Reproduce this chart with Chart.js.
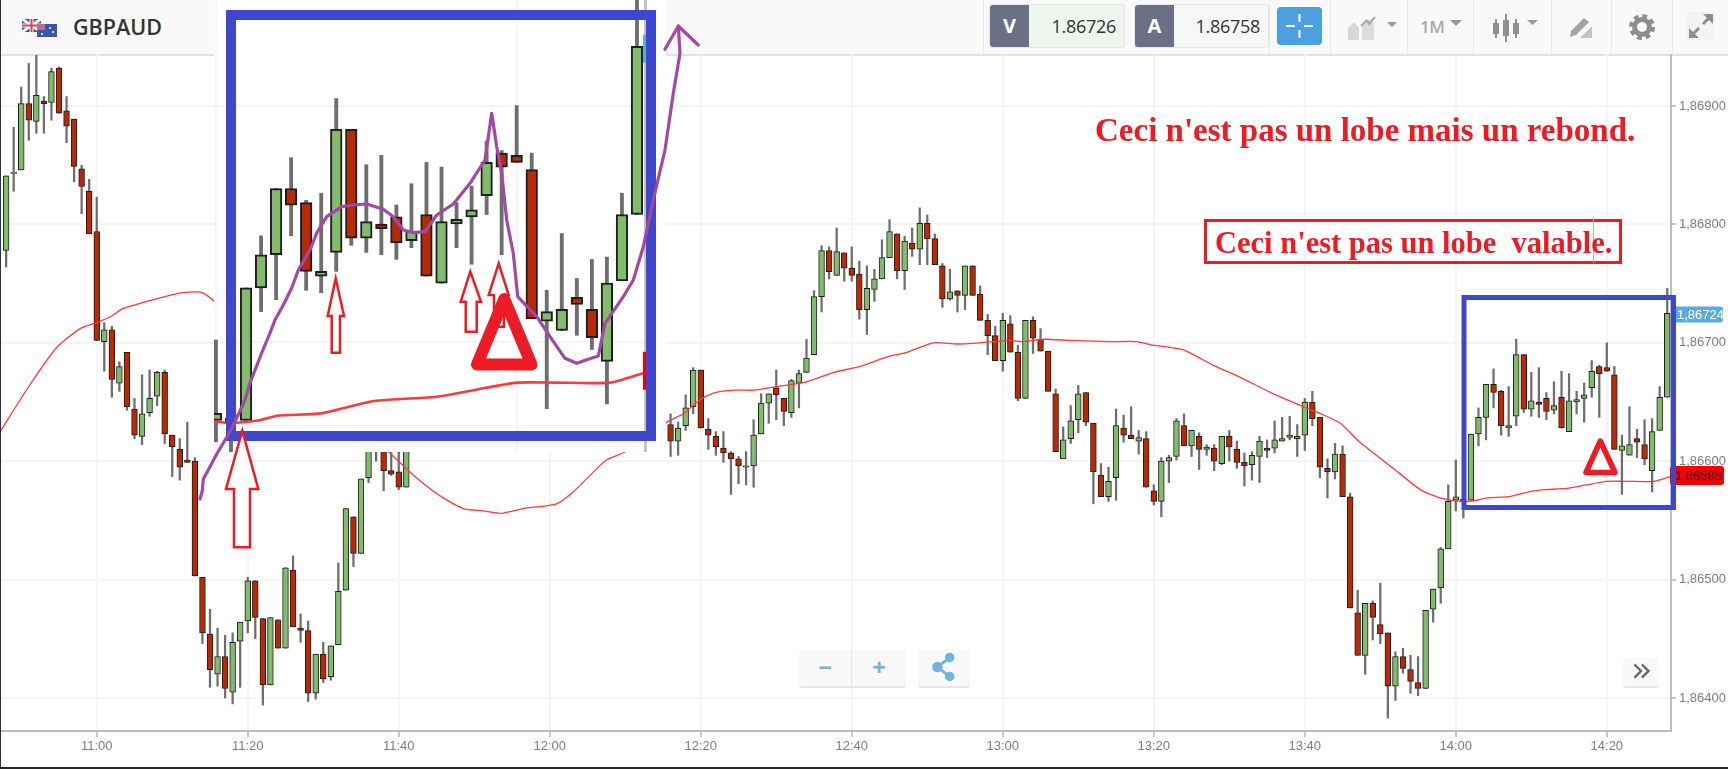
<!DOCTYPE html>
<html>
<head>
<meta charset="utf-8">
<title>GBPAUD</title>
<script src="https://cdn.jsdelivr.net/npm/chart.js@4"></script>
<style>
    html, body { margin: 0; padding: 0; background: #fff; overflow: hidden; }
    #page { position: relative; width: 1728px; height: 769px; overflow: hidden; font-family: "Open Sans", sans-serif; }
    #page > * { position: absolute; }
    canvas { left: 0; top: 0; filter: blur(0.35px); }
    #chart { z-index: 2; }
    #paste { z-index: 4; }
    #header { left: 0; top: 0; width: 1728px; height: 54px; background: #f9f9f9; border-bottom: 2px solid #e2e2e2; z-index: 1; }
    #header > * { position: absolute; }
    .sep { top: 0; width: 1px; height: 54px; background: #e8e8e8; }
    .quote { top: 4px; height: 42px; border: 1px solid #e6e6e6; border-radius: 3px; font-size: 18px; letter-spacing: -0.3px; color: #333; line-height: 42px; text-align: right; box-sizing: content-box; }
    .side { position: absolute; left: 0; top: 0; width: 39px; height: 42px; background: #6b7084; color: #fff; font-weight: 700; font-size: 20px; text-align: center; letter-spacing: 0; border-radius: 3px 0 0 3px; }
    .btn { z-index: 3; background: #f9f9f9; border-bottom: 2px solid #e6e6e6; border-radius: 3px; box-sizing: border-box; color: #6fb4df; text-align: center; font-weight: 700; }
    .note { z-index: 6; color: #ed1c24; font-family: "Liberation Serif", serif; font-weight: 700; white-space: pre; }
    #frame { z-index: 5; left: 1204px; top: 219px; width: 412px; height: 39px; border: 3px solid #ed1c24; }
    #stray { z-index: 5; left: 1593px; top: 218px; width: 1px; height: 45px; background: #b5b5b5; }
    #leftEdge { z-index: 7; left: 0; top: 0; width: 1px; height: 769px; background: #2a2f45; }
    #bottomEdge { z-index: 7; left: 0; top: 767px; width: 1728px; height: 2px; background: #23262e; }
</style>
</head>
<body>
<div id="page">
    <div id="header">
        <svg style="left:22px;top:18px" width="36" height="20" viewBox="0 0 36 20">
            <rect x="0" y="1" width="19" height="13" fill="#3c4f9c"/>
            <path d="M0 1L19 14M19 1L0 14" stroke="#fff" stroke-width="3"/>
            <path d="M9.5 1V14M0 7.5H19" stroke="#fff" stroke-width="4"/>
            <path d="M9.5 1V14M0 7.5H19" stroke="#d8425a" stroke-width="2"/>
            <rect x="15" y="6" width="20" height="13" fill="#3558a8"/>
            <rect x="15" y="6" width="8" height="6" fill="#c46a8a"/>
            <circle cx="28" cy="10" r="1" fill="#fff"/><circle cx="31" cy="14" r="1" fill="#fff"/><circle cx="20" cy="16" r="1" fill="#fff"/>
        </svg>
        <div style="left:73px;top:12px;font-size:21.5px;font-weight:600;color:#333;line-height:30px">GBPAUD</div>

        <div class="sep" style="left:983px"></div>
        <div class="quote" style="left:989px;width:126px;padding-right:8px;background:#edf5ec"><span class="side">V</span>1.86726</div>
        <div class="quote" style="left:1134px;width:125px;padding-right:8px;background:#f7f7f7"><span class="side">A</span>1.86758</div>
        <div class="sep" style="left:1269px"></div>
        <svg style="left:1277px;top:7px" width="45" height="38" viewBox="0 0 45 38">
            <rect width="45" height="38" rx="4" fill="#4ca0e0"/>
            <path d="M22.5 7V15M22.5 23V31M9 19H18M27 19H36" stroke="#fff" stroke-width="2"/>
        </svg>
        <div class="sep" style="left:1330px"></div>
        <svg style="left:1347px;top:14px" width="50" height="28" viewBox="0 0 50 28">
            <path d="M1 14L7 8L12 14L12 26L1 26Z" fill="#d6d6d6"/>
            <path d="M15 12L22 5L27 9V26H15Z" fill="#dcdcdc"/>
            <path d="M14 12L20 6M20 6L22 10L28 3" stroke="#a8a8a8" stroke-width="2" fill="none"/>
            <path d="M40 8H50L45 13Z" fill="#999"/>
        </svg>
        <div class="sep" style="left:1407px"></div>
        <div style="left:1420px;top:13px;font-size:17px;font-weight:600;color:#aaa;line-height:28px;letter-spacing:-0.4px">1M</div>
        <svg style="left:1449px;top:18px" width="14" height="10" viewBox="0 0 14 10"><path d="M1 2H13L7 8Z" fill="#999"/></svg>
        <div class="sep" style="left:1473px"></div>
        <svg style="left:1492px;top:13px" width="48" height="30" viewBox="0 0 48 30">
            <path d="M4 6V25M14 1V29M24 6V25" stroke="#8f8f8f" stroke-width="2"/>
            <rect x="1" y="10" width="6" height="11" fill="#8f8f8f"/><rect x="11" y="7" width="6" height="16" fill="#8f8f8f"/><rect x="21" y="10" width="6" height="11" fill="#8f8f8f"/>
            <path d="M35 7H46L40.500 12Z" fill="#999"/>
        </svg>
        <div class="sep" style="left:1551px"></div>
        <svg style="left:1568px;top:16px" width="26" height="24" viewBox="0 0 26 24">
            <path d="M3 15L16 2L21 6L8 19L2 21Z" fill="#a4a4a4"/>
            <path d="M24 10V22H12Z" fill="#c4c4c4"/>
        </svg>
        <div class="sep" style="left:1611px"></div>
        <svg style="left:1628px;top:13px" width="28" height="28" viewBox="0 0 28 28">
            <circle cx="14" cy="14" r="10.500" fill="none" stroke="#8e8e8e" stroke-width="5" stroke-dasharray="4.500 3.750"/>
            <circle cx="14" cy="14" r="7.500" fill="none" stroke="#8e8e8e" stroke-width="5"/>
        </svg>
        <div class="sep" style="left:1672px"></div>
        <svg style="left:1687px;top:12px" width="28" height="28" viewBox="0 0 28 28">
            <rect width="28" height="28" fill="#f3f3f3"/>
            <path d="M4 24L12 16M24 4L16 12" stroke="#8e8e8e" stroke-width="3"/>
            <path d="M2 26V16L12 26ZM26 2V12L16 2Z" fill="#8e8e8e"/>
        </svg>
    </div>

    <canvas id="chart" width="1728" height="769"></canvas>

    <div class="btn" style="left:799px;top:649px;width:107px;height:39px;font-size:24px;line-height:36px">
        <span style="position:absolute;left:0;width:52px">&#8722;</span>
        <span style="position:absolute;left:52px;top:0;width:1px;height:37px;background:#e6e6e6"></span>
        <span style="position:absolute;left:53px;width:54px">+</span>
    </div>
    <svg class="btn" style="left:918px;top:649px" width="52" height="39" viewBox="0 0 52 39">
        <path d="M32 9L19 19L32 29" stroke="#6fb4df" stroke-width="3" fill="none"/>
        <circle cx="32" cy="9" r="5" fill="#6fb4df"/><circle cx="19" cy="19" r="5.500" fill="#6fb4df"/><circle cx="32" cy="29" r="5" fill="#6fb4df"/>
    </svg>
    <svg class="btn" style="left:1623px;top:657px" width="36" height="31" viewBox="0 0 36 31">
        <path d="M11 8L18 15L11 22M19 8L26 15L19 22" stroke="#666" stroke-width="2.500" fill="none"/>
    </svg>

    <canvas id="paste" width="1728" height="769"></canvas>

    <div class="note" style="left:1095px;top:112px;font-size:33px;line-height:36px">Ceci n'est pas un lobe mais un rebond.</div>
    <div id="frame"></div>
    <div id="stray"></div>
    <div class="note" style="left:1215px;top:226px;font-size:30.5px;line-height:34px">Ceci n'est pas un lobe  valable.</div>
    <div id="leftEdge"></div>
    <div id="bottomEdge"></div>
</div>

<script>
// One minute candles, minutes counted from midnight. First candle is 10:48.
const firstMinute = 648;
const lastPrice = 1.86724;
const averagePrice = 1.86588;
const tickStepMinutes = 20;
const tickStepPrice = 0.001;

// null = candle sits behind the pasted zoom box and cannot be read
const hidden = new Array(34).fill(null);

const opens = [
    1.86778,1.86843,1.86846,1.86902,1.86887,1.86904,1.86903,1.86932,1.86896,1.86889,
    1.86847,1.86828,1.86794,1.86701,1.86711,1.86666,1.86692,1.86644,1.86621,1.86641,
    1.86655,1.86675,1.86622,1.86610,1.86601,1.86600,1.86502,1.86454,1.86420,1.86435,
    1.86405,1.86448,1.86465,1.86499,1.86467,1.86411,1.86466,1.86442,1.86508,1.86459,
    1.86457,1.86404,1.86437,1.86418,1.86445,1.86491,1.86553,1.86522,1.86586,1.86618,
    1.86625,1.86592,1.86591,1.86578,
    ...hidden,
    1.86631,1.86617,1.86630,1.86646,1.86677,1.86627,1.86621,1.86611,1.86607,1.86602,
    1.86595,1.86596,1.86623,1.86649,1.86662,1.86653,1.86641,1.86666,1.86675,1.86690,
    1.86739,1.86778,1.86757,1.86776,1.86763,1.86758,1.86728,1.86745,1.86754,1.86772,
    1.86792,1.86761,1.86784,1.86779,1.86801,1.86788,1.86765,1.86737,1.86744,1.86740,
    1.86765,1.86741,1.86719,1.86706,1.86685,1.86716,1.86692,1.86653,1.86719,1.86703,
    1.86693,1.86657,1.86602,1.86619,1.86635,1.86658,1.86632,1.86588,1.86570,1.86586,
    1.86628,1.86622,1.86617,1.86619,1.86575,1.86566,1.86600,1.86604,1.86630,1.86613,
    1.86621,1.86610,1.86611,1.86598,1.86621,1.86610,1.86599,1.86597,1.86604,1.86611,
    1.86611,1.86617,1.86620,1.86619,1.86622,1.86650,1.86637,1.86594,1.86591,1.86606,
    1.86570,1.86472,1.86436,1.86480,1.86462,1.86455,1.86410,1.86435,1.86424,1.86413,
    1.86408,1.86475,1.86493,1.86526,1.86567,1.86568,1.86567,1.86623,1.86637,1.86665,
    1.86659,1.86628,1.86638,1.86690,1.86644,1.86650,1.86653,1.86643,1.86654,1.86625,
    1.86650,1.86653,1.86662,1.86680,1.86679,1.86673,1.86609,1.86605,1.86619,1.86614,1.86592,1.86626,1.86654
];

const highs = [
    1.86841,1.86882,1.86916,1.86936,1.86947,1.86908,1.86932,1.86933,1.86908,1.86889,
    1.86850,1.86838,1.86823,1.86717,1.86714,1.86684,1.86692,1.86653,1.86673,1.86677,
    1.86676,1.86677,1.86622,1.86619,1.86633,1.86603,1.86502,1.86475,1.86459,1.86453,
    1.86455,1.86464,1.86502,1.86499,1.86467,1.86468,1.86466,1.86510,1.86520,1.86471,
    1.86465,1.86437,1.86447,1.86444,1.86514,1.86560,1.86553,1.86585,1.86620,1.86630,
    1.86630,1.86615,1.86615,1.86625,
    ...hidden,
    1.86640,1.86633,1.86656,1.86679,1.86677,1.86636,1.86625,1.86625,1.86608,1.86604,
    1.86608,1.86635,1.86657,1.86657,1.86677,1.86653,1.86669,1.86677,1.86703,1.86744,
    1.86782,1.86781,1.86797,1.86776,1.86781,1.86769,1.86765,1.86762,1.86787,1.86804,
    1.86792,1.86790,1.86797,1.86814,1.86808,1.86792,1.86767,1.86762,1.86744,1.86765,
    1.86765,1.86748,1.86724,1.86714,1.86725,1.86723,1.86698,1.86719,1.86722,1.86712,
    1.86693,1.86661,1.86629,1.86647,1.86664,1.86658,1.86632,1.86598,1.86595,1.86644,
    1.86639,1.86646,1.86626,1.86625,1.86580,1.86603,1.86605,1.86636,1.86640,1.86626,
    1.86624,1.86614,1.86614,1.86621,1.86626,1.86617,1.86607,1.86608,1.86621,1.86618,
    1.86634,1.86637,1.86638,1.86631,1.86653,1.86659,1.86637,1.86602,1.86615,1.86613,
    1.86573,1.86491,1.86480,1.86482,1.86497,1.86455,1.86439,1.86442,1.86436,1.86435,
    1.86474,1.86492,1.86527,1.86580,1.86601,1.86575,1.86623,1.86645,1.86665,1.86678,
    1.86660,1.86663,1.86703,1.86690,1.86675,1.86679,1.86658,1.86667,1.86676,1.86674,
    1.86659,1.86666,1.86685,1.86681,1.86700,1.86680,1.86622,1.86646,1.86627,1.86635,1.86636,1.86663,1.86746
];

const lows = [
    1.86764,1.86828,1.86846,1.86871,1.86877,1.86877,1.86888,1.86894,1.86869,1.86836,
    1.86809,1.86792,1.86702,1.86676,1.86654,1.86659,1.86643,1.86619,1.86614,1.86638,
    1.86647,1.86615,1.86587,1.86584,1.86599,1.86503,1.86446,1.86409,1.86410,1.86400,
    1.86395,1.86409,1.86455,1.86450,1.86394,1.86411,1.86442,1.86442,1.86460,1.86447,
    1.86397,1.86399,1.86413,1.86415,1.86445,1.86491,1.86511,1.86522,1.86582,1.86600,
    1.86575,1.86588,1.86576,1.86578,
    ...hidden,
    1.86604,1.86605,1.86626,1.86640,1.86628,1.86610,1.86605,1.86599,1.86572,1.86581,
    1.86580,1.86578,1.86623,1.86632,1.86635,1.86630,1.86637,1.86645,1.86675,1.86690,
    1.86726,1.86754,1.86757,1.86752,1.86752,1.86720,1.86707,1.86735,1.86754,1.86772,
    1.86754,1.86745,1.86773,1.86766,1.86766,1.86766,1.86730,1.86736,1.86726,1.86728,
    1.86740,1.86719,1.86690,1.86685,1.86676,1.86692,1.86651,1.86653,1.86691,1.86693,
    1.86659,1.86608,1.86602,1.86615,1.86624,1.86630,1.86564,1.86570,1.86566,1.86567,
    1.86616,1.86619,1.86606,1.86578,1.86563,1.86553,1.86582,1.86601,1.86613,1.86604,
    1.86593,1.86605,1.86592,1.86597,1.86600,1.86594,1.86579,1.86584,1.86582,1.86603,
    1.86607,1.86617,1.86618,1.86604,1.86609,1.86630,1.86586,1.86569,1.86585,1.86570,
    1.86476,1.86436,1.86420,1.86449,1.86446,1.86383,1.86398,1.86421,1.86404,1.86402,
    1.86408,1.86464,1.86480,1.86526,1.86558,1.86552,1.86567,1.86613,1.86618,1.86645,
    1.86622,1.86621,1.86630,1.86641,1.86638,1.86637,1.86635,1.86640,1.86628,1.86625,
    1.86640,1.86633,1.86654,1.86637,1.86676,1.86610,1.86572,1.86605,1.86603,1.86597,1.86574,1.86626,1.86654
];

const closes = [
    1.86841,1.86844,1.86902,1.86888,1.86909,1.86902,1.86929,1.86894,1.86883,1.86849,
    1.86832,1.86792,1.86702,1.86711,1.86669,1.86680,1.86646,1.86622,1.86640,1.86653,
    1.86675,1.86623,1.86612,1.86595,1.86599,1.86503,1.86455,1.86424,1.86435,1.86408,
    1.86447,1.86464,1.86499,1.86468,1.86411,1.86468,1.86442,1.86510,1.86460,1.86457,
    1.86404,1.86437,1.86416,1.86444,1.86490,1.86560,1.86522,1.86585,1.86614,1.86625,
    1.86592,1.86589,1.86578,1.86620,
    ...hidden,
    1.86617,1.86628,1.86645,1.86677,1.86628,1.86622,1.86612,1.86607,1.86602,1.86596,
    1.86596,1.86622,1.86649,1.86657,1.86656,1.86642,1.86668,1.86674,1.86687,1.86739,
    1.86778,1.86760,1.86777,1.86763,1.86757,1.86728,1.86746,1.86754,1.86772,1.86794,
    1.86761,1.86786,1.86779,1.86801,1.86788,1.86766,1.86737,1.86743,1.86740,1.86765,
    1.86740,1.86719,1.86706,1.86685,1.86719,1.86692,1.86653,1.86719,1.86704,1.86693,
    1.86659,1.86608,1.86618,1.86634,1.86657,1.86633,1.86591,1.86570,1.86583,1.86630,
    1.86622,1.86619,1.86620,1.86578,1.86566,1.86600,1.86603,1.86634,1.86613,1.86626,
    1.86610,1.86612,1.86600,1.86621,1.86612,1.86599,1.86596,1.86605,1.86617,1.86609,
    1.86618,1.86619,1.86622,1.86621,1.86650,1.86636,1.86595,1.86591,1.86606,1.86570,
    1.86476,1.86436,1.86480,1.86468,1.86454,1.86410,1.86435,1.86425,1.86414,1.86408,
    1.86474,1.86492,1.86526,1.86566,1.86570,1.86566,1.86623,1.86637,1.86665,1.86658,
    1.86630,1.86630,1.86690,1.86644,1.86651,1.86648,1.86642,1.86647,1.86628,1.86651,
    1.86652,1.86656,1.86676,1.86674,1.86676,1.86610,1.86613,1.86614,1.86616,1.86602,1.86625,1.86654,1.86725
];

// Moving average at the minutes where it can be seen
const averageMinutes = [
    647.3,651.2,654.7,657.8,660,661.8,663.5,666.1,668.4,671,673.3,674.1,675.4,
    698.8,701.3,703.3,705.9,708.6,711.2,713.6,716.5,720.9,723.1,725.8,727.5,730,
    735.5,737.7,739.9,741.9,744.5,747,750.1,754,757.6,761.1,764.6,767.3,770.8,773.9,777,
    781,782.7,785.4,788.9,794.2,797.7,799.9,803.9,807.9,811.4,815.8,819.8,822.5,824.7,827.3,
    831.7,835.3,837.9,840.8,842.8,844.1,847,850.3,852,854.7,857.3,860,862.6,866.2,868.4
];
const averageValues = [
    1.86626,1.86665,1.86696,1.86712,1.86717,1.86722,1.86729,1.86734,1.86738,1.86742,1.86743,1.86742,1.86736,
    1.86607,1.86592,1.86581,1.86569,1.86560,1.86558,1.86556,1.86560,1.86564,1.86574,1.86591,1.86601,1.86608,
    1.86633,1.86640,1.86652,1.86658,1.86660,1.86660,1.86663,1.86667,1.86675,1.86680,1.86688,1.86692,1.86700,1.86699,1.86700,
    1.86702,1.86701,1.86703,1.86702,1.86701,1.86701,1.86698,1.86694,1.86681,1.86671,1.86657,1.86646,1.86639,1.86632,1.86616,
    1.86594,1.86576,1.86569,1.86566,1.86567,1.86569,1.86570,1.86575,1.86576,1.86577,1.86580,1.86583,1.86583,1.86583,1.86587
];

const GREEN = '#82bb6d';
const RED = '#b82a06';
const OUTLINE = '#1e1e1e';
const GRID = '#f5f5f5';

function clockLabel(minute) {
    const h = Math.floor(minute / 60);
    const m = minute % 60;
    return h + ':' + String(m).padStart(2, '0');
}

function priceLabel(value) {
    return value.toFixed(5).replace('.', ',');
}

// Wicks and bodies are two floating bar datasets, the average is a line on top
function buildDatasets(scale) {
    const wicks = [];
    const bodies = [];
    const colors = [];
    opens.forEach((open, i) => {
        if (open === null) return;
        const x = firstMinute + i;
        wicks.push({ x: x, y: [lows[i], highs[i]] });
        bodies.push({ x: x, y: [open, closes[i]] });
        colors.push(closes[i] >= open ? GREEN : RED);
    });
    return [
        {
            type: 'line',
            data: averageMinutes.map((x, i) => ({ x: x, y: averageValues[i] })),
            borderColor: '#ff3a3a',
            borderWidth: 1.3 * scale,
            pointRadius: 0,
            tension: 0.2,
            order: 0
        },
        {
            data: bodies,
            backgroundColor: colors,
            borderColor: OUTLINE,
            borderWidth: scale,
            borderSkipped: false,
            barThickness: 5.8 * scale,
            grouped: false,
            order: 1
        },
        {
            data: wicks,
            backgroundColor: '#6e6e6e',
            barThickness: 1.6 * scale,
            grouped: false,
            order: 2
        }
    ];
}

// Badges on the price axis
const priceTags = {
    id: 'priceTags',
    afterDraw(chart) {
        const ctx = chart.ctx;
        const y = chart.scales.y;
        const tag = (value, left, width, height, fill, text) => {
            const cy = y.getPixelForValue(value);
            ctx.save();
            ctx.fillStyle = fill;
            ctx.beginPath();
            ctx.roundRect(left, cy - height / 2, width, height, 3);
            ctx.fill();
            ctx.fillStyle = text;
            ctx.font = '13px "Liberation Sans"';
            ctx.textBaseline = 'middle';
            ctx.fillText(priceLabel(value), left + 5, cy + 1);
            ctx.restore();
        };
        tag(lastPrice, 1672, 51, 16, '#57aede', '#fff');
        tag(averagePrice, 1670, 54, 19, '#f40000', '#3a0a0a');
    }
};

new Chart(document.getElementById('chart'), {
    type: 'bar',
    data: { datasets: buildDatasets(1) },
    plugins: [priceTags],
    options: {
        responsive: false,
        animation: false,
        devicePixelRatio: 1,
        events: [],
        layout: { padding: { left: 1, top: 55, right: 0, bottom: 0 } },
        plugins: { legend: { display: false }, tooltip: { enabled: false } },
        scales: {
            x: {
                type: 'linear',
                offset: false,
                min: 647.32,
                max: 868.5,
                afterFit(scale) { scale.height = 38; },
                grid: { offset: false, color: GRID, lineWidth: 2, tickLength: 6, tickColor: '#b5b5b5', tickWidth: 1.5 },
                border: { color: '#bdbdbd', width: 2 },
                ticks: {
                    stepSize: tickStepMinutes,
                    includeBounds: false,
                    maxRotation: 0,
                    autoSkip: false,
                    padding: 2,
                    color: '#7d7d7d',
                    font: { family: '"Liberation Sans"', size: 13 },
                    callback: clockLabel
                }
            },
            y: {
                position: 'right',
                min: 1.863721,
                max: 1.869431,
                afterFit(scale) { scale.width = 57; },
                grid: { color: GRID, lineWidth: 2, tickLength: 5, tickColor: '#b5b5b5', tickWidth: 1.5 },
                border: { color: '#bdbdbd', width: 2 },
                ticks: {
                    stepSize: tickStepPrice,
                    includeBounds: false,
                    padding: 3,
                    color: '#7d7d7d',
                    font: { family: '"Liberation Sans"', size: 13 },
                    callback: priceLabel
                }
            }
        }
    }
});

// Second chart: the last half hour at twice the size, pasted over the left side.
// The plugin also carries the hand drawn marks that were put on the screenshot.
function polygon(ctx, points) {
    ctx.beginPath();
    points.forEach((p, i) => i ? ctx.lineTo(p[0], p[1]) : ctx.moveTo(p[0], p[1]));
    ctx.closePath();
}

function upArrow(ctx, tipX, tipY, headLeft, headRight, headY, shaftLeft, shaftRight, bottom) {
    polygon(ctx, [[tipX, tipY], [headRight, headY], [shaftRight, headY], [shaftRight, bottom],
        [shaftLeft, bottom], [shaftLeft, headY], [headLeft, headY]]);
    ctx.fillStyle = '#fff';
    ctx.fill();
    ctx.strokeStyle = '#ed1c24';
    ctx.lineWidth = 2.5;
    ctx.stroke();
}

function triangle(ctx, points, width) {
    polygon(ctx, points);
    ctx.strokeStyle = '#ed1c24';
    ctx.lineWidth = width;
    ctx.lineJoin = 'round';
    ctx.stroke();
}

const purpleStroke = [
    [200,499],[202.3,490.7],[203.3,479],[208.3,470],[216.7,454],[226.7,437.3],[235,421.7],[245,400],[250,383],
    [261.7,353],[270,333],[275,320],[283.3,305],[291.7,288],[298.3,270],[310,250],[316.7,233],[326.7,216.7],
    [341.7,206.7],[353.3,205],[366.7,204],[383.3,209.3],[393.3,216.7],[403.3,230],[413.3,232.7],[425,231.7],
    [436.7,215],[453.3,204],[470,183.3],[485,160],[491.7,113.3],[496.7,146.7],[501.7,173.3],[506.7,220],
    [513.3,253.3],[517.7,296.7],[536.7,316.7],[550,336.7],[565,358.3],[576.7,363.3],[588.3,359.3],[598.3,356],
    [605,323.3],[623.3,296.7],[633.3,280],[643.3,246.7],[653.3,200],[665,150],[673.3,93.3],[680,53.3],[678.3,26]
];
const purpleHead = [[665,49.3],[678.3,26],[698.3,45]];

const pasteBox = {
    id: 'pasteBox',
    beforeDraw(chart) {
        chart.ctx.fillStyle = '#fff';
        chart.ctx.fillRect(214, 0, 452, 452);
    },
    afterDraw(chart) {
        const ctx = chart.ctx;
        const area = chart.chartArea;
        const y = chart.scales.y;
        ctx.save();

        // price axis and tag slivers of the pasted copy
        ctx.fillStyle = '#c4c4c4';
        ctx.fillRect(area.right - 2, 0, 3, 452);
        ctx.fillStyle = '#f40000';
        ctx.fillRect(area.right - 3, y.getPixelForValue(averagePrice) - 19, 8, 38);
        ctx.fillStyle = '#57aede';
        ctx.fillRect(area.right - 3, y.getPixelForValue(lastPrice) - 14, 8, 28);

        ctx.lineJoin = 'miter';
        ctx.strokeStyle = '#3f48cc';
        ctx.lineWidth = 10;
        ctx.strokeRect(231, 15, 420, 421);
        ctx.lineWidth = 5;
        ctx.strokeRect(1464, 297.5, 209.5, 210);

        upArrow(ctx, 242.3, 430.7, 226, 258.3, 489, 234, 250, 547.3);
        upArrow(ctx, 335.7, 278.3, 327.7, 344, 316, 331.7, 340, 352.7);
        upArrow(ctx, 470.3, 271.7, 460.7, 481, 301.7, 465.7, 476.7, 331.7);
        upArrow(ctx, 498.7, 263.3, 488.7, 508.7, 295, 494, 504, 326.7);

        triangle(ctx, [[504.3, 299], [477, 364.5], [531.5, 364.5]], 12);
        triangle(ctx, [[1600.3, 441], [1586, 472.5], [1615, 472.5]], 5.5);

        ctx.strokeStyle = '#a349a4';
        ctx.lineWidth = 3.2;
        ctx.lineJoin = 'round';
        ctx.lineCap = 'round';
        ctx.beginPath();
        purpleStroke.forEach((p, i) => i ? ctx.lineTo(p[0], p[1]) : ctx.moveTo(p[0], p[1]));
        ctx.stroke();
        ctx.beginPath();
        purpleHead.forEach((p, i) => i ? ctx.lineTo(p[0], p[1]) : ctx.moveTo(p[0], p[1]));
        ctx.stroke();
        ctx.restore();
    }
};

new Chart(document.getElementById('paste'), {
    type: 'bar',
    data: { datasets: buildDatasets(2) },
    plugins: [pasteBox],
    options: {
        responsive: false,
        animation: false,
        devicePixelRatio: 1,
        events: [],
        layout: { padding: { left: 214, top: 0, right: 1082, bottom: 317 } },
        plugins: { legend: { display: false }, tooltip: { enabled: false } },
        scales: {
            x: {
                type: 'linear',
                offset: false,
                min: 839.87,
                max: 868.6,
                afterFit(scale) { scale.height = 0; },
                grid: { offset: false, color: GRID, lineWidth: 2, drawTicks: false },
                border: { display: false },
                ticks: { display: false, stepSize: tickStepMinutes, includeBounds: false }
            },
            y: {
                position: 'right',
                min: 1.865537,
                max: 1.867446,
                afterFit(scale) { scale.width = 0; },
                grid: { color: GRID, lineWidth: 2, drawTicks: false },
                border: { display: false },
                ticks: { display: false, stepSize: tickStepPrice, includeBounds: false }
            }
        }
    }
});
</script>
</body>
</html>
